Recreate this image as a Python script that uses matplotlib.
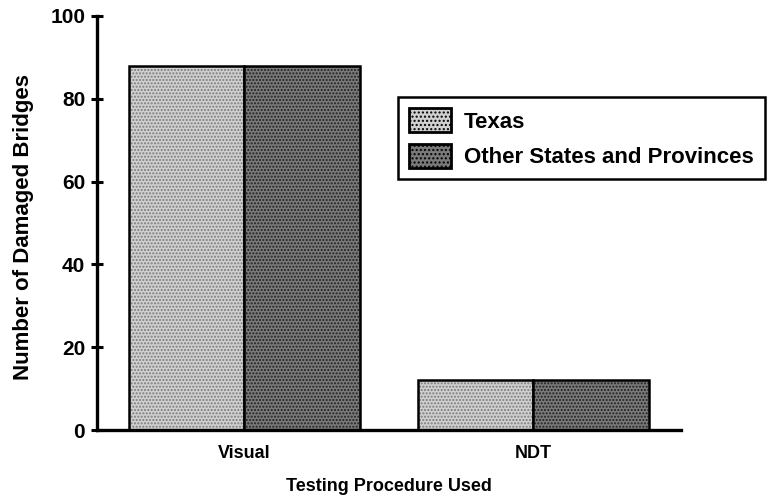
import matplotlib
matplotlib.use("Agg")
from matplotlib import pyplot as plt
from matplotlib.patches import Patch

plt.rcParams['font.family'] = 'Liberation Sans'
plt.rcParams['font.weight'] = 'bold'

categories = ["Visual", "NDT"]
series_names = ["Texas", "Other States and Provinces"]
texas = [88, 12]
other = [88, 12]

fills = ['#d0d0d0', '#7a7a7a']
dots = ['#7a7a7a', '#202020']
width = 0.4

fig = plt.figure(figsize=(7.73, 4.96), dpi=100)
ax = fig.add_axes([0.1255, 0.133, 0.755, 0.835])

x = list(range(len(categories)))
for i, vals in enumerate([texas, other]):
    pos = [xi - width / 2 + i * width for xi in x]
    ax.bar(pos, vals, width, color=fills[i], hatch='.....', edgecolor=dots[i], linewidth=0)
    ax.bar(pos, vals, width, fill=False, edgecolor='black', linewidth=1.8)

ax.set_xlim(-0.51, 1.51)
ax.set_ylim(0, 100)
ax.set_yticks([0, 20, 40, 60, 80, 100])
ax.set_xticks(x)
ax.set_xticklabels(categories, fontsize=13, fontweight='bold')
ax.tick_params(axis='y', direction='inout', length=9, width=2.2, labelsize=15, pad=4)
ax.tick_params(axis='x', length=0, pad=11)
for lab in ax.get_yticklabels():
    lab.set_fontweight('bold')
ax.spines['top'].set_visible(False)
ax.spines['right'].set_visible(False)
ax.spines['left'].set_linewidth(2.4)
ax.spines['bottom'].set_linewidth(2.4)

ax.set_xlabel("Testing Procedure Used", fontsize=13, fontweight='bold', labelpad=11)
ax.set_ylabel("Number of Damaged Bridges", fontsize=16, fontweight='bold')
ax.yaxis.set_label_coords(-0.108, 0.49)

handles = [Patch(facecolor=fills[i], hatch='....', edgecolor='black', linewidth=2) for i in range(2)]
leg = ax.legend(handles, series_names, loc='upper left', bbox_to_anchor=(0.516, 0.804),
                frameon=True, fancybox=False, edgecolor='black', fontsize=16,
                handlelength=1.9, handleheight=1.3, borderpad=0.5, labelspacing=0.5,
                handletextpad=0.55, borderaxespad=0, framealpha=1)
leg.get_frame().set_linewidth(1.8)
leg.set_clip_on(False)

fig.savefig("out.png", dpi=100)
